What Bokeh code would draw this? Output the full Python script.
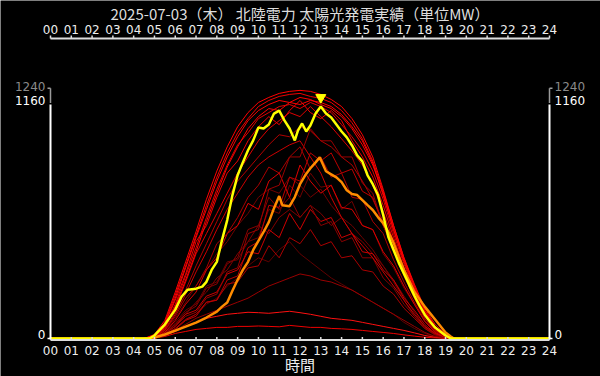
from bokeh.plotting import figure
from bokeh.models import Range1d
from bokeh.core.properties import value
from bokeh.embed import file_html
from bokeh.resources import INLINE

TITLE = "2025-07-03（木） 北陸電力 太陽光発電実績（単位MW）"
X_LABEL = "時間"
HOUR_TICKS = list(range(25))
HOUR_LABELS = ["00", "01", "02", "03", "04", "05", "06", "07", "08", "09", "10", "11", "12",
               "13", "14", "15", "16", "17", "18", "19", "20", "21", "22", "23", "24"]
Y_TICKS = [0, 1160]
Y_TICK_LABELS = ["0", "1160"]
Y_TOP = 1240
Y_TOP_LABEL = "1240"

# half-hour grid used by the past days (red)
RED_HOURS = [0, 4.5, 5.0, 5.5, 6.0, 6.5, 7.0, 7.5, 8.0, 8.5, 9.0, 9.5, 10.0, 10.5, 11.0, 11.5,
             12.0, 12.5, 13.0, 13.5, 14.0, 14.5, 15.0, 15.5, 16.0, 16.5, 17.0, 17.5, 18.0,
             18.5, 19.0, 19.5, 24]

day_a = [0, 0, 20, 90, 230, 380, 530, 690, 830, 950, 1050, 1120, 1170, 1195, 1215, 1225, 1230, 1225, 1210, 1185, 1150, 1090, 1010, 900, 740, 560, 400, 270, 150, 70, 20, 0, 0]
day_b = [0, 0, 15, 75, 200, 350, 500, 640, 780, 900, 1000, 1080, 1130, 1160, 1180, 1170, 1195, 1185, 1160, 1140, 1100, 1040, 960, 860, 720, 540, 390, 260, 140, 60, 15, 0, 0]
day_c = [0, 0, 10, 60, 170, 310, 450, 600, 740, 860, 960, 1020, 1090, 1120, 1150, 1160, 1140, 1170, 1150, 1120, 1060, 1000, 930, 830, 690, 520, 370, 240, 130, 55, 12, 0, 0]
day_d = [0, 0, 12, 70, 190, 320, 480, 560, 700, 820, 880, 980, 1050, 1100, 1060, 1130, 1180, 1120, 1090, 1130, 1080, 980, 900, 800, 660, 500, 350, 230, 120, 50, 10, 0, 0]
day_e = [0, 0, 8, 50, 150, 280, 420, 520, 620, 720, 820, 900, 980, 1040, 1080, 1120, 1100, 1150, 1100, 1050, 990, 930, 860, 760, 630, 480, 340, 220, 115, 45, 10, 0, 0]
day_f = [0, 0, 8, 45, 130, 240, 360, 470, 580, 690, 780, 840, 900, 960, 1010, 1000, 1050, 1030, 980, 950, 900, 860, 780, 690, 580, 450, 320, 200, 100, 40, 8, 0, 0]
day_g = [0, 0, 6, 40, 110, 200, 260, 350, 470, 520, 600, 700, 760, 850, 820, 900, 950, 840, 900, 800, 820, 700, 690, 580, 520, 390, 280, 180, 90, 35, 8, 0, 0]
day_h = [0, 0, 5, 30, 90, 170, 230, 340, 400, 520, 560, 670, 640, 780, 820, 700, 860, 780, 720, 760, 650, 640, 560, 540, 430, 360, 260, 170, 85, 30, 5, 0, 0]
day_i = [0, 0, 5, 30, 80, 140, 170, 260, 280, 380, 390, 480, 500, 640, 620, 760, 700, 820, 750, 760, 640, 680, 560, 540, 420, 350, 250, 170, 85, 30, 5, 0, 0]
day_j = [0, 0, 4, 25, 60, 110, 130, 200, 220, 330, 350, 520, 540, 740, 760, 900, 900, 1040, 980, 980, 900, 900, 770, 720, 560, 440, 310, 200, 100, 40, 8, 0, 0]
day_k = [0, 0, 5, 25, 60, 120, 140, 210, 230, 320, 340, 430, 420, 540, 500, 620, 540, 640, 580, 600, 500, 520, 430, 420, 340, 290, 200, 140, 70, 25, 5, 0, 0]
day_l = [0, 0, 4, 20, 50, 95, 120, 180, 190, 270, 280, 350, 360, 460, 400, 500, 470, 540, 460, 480, 400, 410, 340, 330, 260, 220, 150, 100, 50, 20, 4, 0, 0]
day_m = [0, 0, 3, 15, 40, 70, 100, 120, 140, 160, 180, 200, 230, 260, 280, 300, 320, 310, 290, 280, 260, 240, 210, 180, 150, 120, 90, 60, 30, 10, 2, 0, 0]
day_n = [0, 0, 3, 15, 35, 60, 80, 100, 110, 120, 125, 130, 128, 125, 130, 135, 128, 120, 110, 100, 95, 90, 80, 70, 60, 50, 40, 28, 15, 6, 2, 0, 0]
day_o = [0, 0, 2, 10, 25, 35, 45, 50, 55, 55, 60, 60, 62, 60, 58, 65, 60, 55, 55, 50, 48, 45, 40, 35, 30, 25, 18, 12, 6, 3, 1, 0, 0]
day_p = [0, 0, 6, 40, 120, 220, 330, 430, 540, 640, 720, 800, 860, 900, 930, 960, 980, 900, 820, 700, 600, 520, 460, 400, 330, 260, 190, 120, 60, 25, 5, 0, 0]
day_q = [0, 0, 3, 18, 45, 90, 110, 180, 190, 290, 310, 450, 480, 660, 650, 800, 780, 920, 880, 920, 820, 840, 730, 700, 560, 450, 320, 210, 100, 40, 8, 0, 0]
day_r = [0, 0, 5, 30, 70, 130, 160, 250, 270, 370, 400, 540, 560, 700, 640, 700, 600, 660, 560, 580, 480, 500, 400, 400, 300, 250, 170, 110, 55, 20, 4, 0, 0]
day_s = [0, 0, 15, 80, 215, 360, 510, 660, 800, 920, 1020, 1090, 1150, 1180, 1200, 1210, 1215, 1200, 1190, 1170, 1130, 1070, 990, 880, 730, 560, 400, 260, 140, 60, 15, 0, 0]
day_t = [0, 0, 10, 55, 160, 290, 430, 580, 720, 850, 950, 1040, 1100, 1140, 1130, 1170, 1160, 1180, 1170, 1150, 1110, 1050, 980, 870, 710, 540, 380, 250, 130, 55, 12, 0, 0]
day_u = [0, 0, 3, 20, 50, 90, 120, 170, 200, 260, 300, 360, 400, 380, 440, 480, 420, 380, 340, 300, 270, 240, 210, 180, 150, 120, 80, 50, 25, 8, 2, 0, 0]
day_v = [0, 0, 4, 25, 70, 120, 180, 230, 300, 340, 420, 480, 560, 520, 600, 640, 600, 660, 620, 560, 600, 520, 480, 420, 360, 290, 210, 130, 60, 20, 4, 0, 0]
day_w = [0, 0, 5, 35, 100, 180, 260, 340, 420, 480, 560, 620, 700, 740, 720, 800, 760, 700, 740, 660, 600, 560, 500, 440, 360, 280, 190, 110, 50, 15, 3, 0, 0]

RED_DAYS = [day_u, day_v, day_w, day_o, day_n, day_m, day_l, day_k, day_r, day_i, day_h, day_q,
            day_g, day_p, day_j, day_f, day_e, day_d, day_t, day_c, day_b, day_s, day_a]
RED_COLORS = ["#600000", "#800000", "#700000", "#ee0000", "#ff1010", "#990000", "#aa0000",
              "#cc0000", "#880000", "#700000", "#dd0000", "#bb0000", "#aa0000", "#cc0000",
              "#990000", "#b00000", "#dd0000", "#ee0000", "#ff0000", "#e00000", "#ff0000",
              "#f00000", "#ff0000"]

ORANGE_HOURS = [0, 4.9, 5.0, 5.5, 6.0, 6.5, 7.0, 7.5, 8.0, 8.25, 8.5, 8.75, 9.0, 9.25, 9.5, 9.75,
                10.0, 10.25, 10.5, 10.75, 11.0, 11.15, 11.5, 11.75, 12.0, 12.25, 12.5, 12.75,
                12.95, 13.1, 13.25, 13.5, 13.75, 14.0, 14.25, 14.5, 14.75, 15.0, 15.25, 15.5,
                15.75, 16.0, 16.25, 16.5, 16.75, 17.0, 17.5, 18.0, 18.5, 19.0, 19.25, 19.4, 24]
ORANGE_MW = [0, 0, 5, 20, 39, 59, 79, 104, 133, 158, 178, 237, 291, 340, 380, 439,
             484, 528, 577, 646, 706, 661, 656, 701, 765, 809, 844, 873,
             898, 864, 829, 814, 799, 775, 735, 716, 711, 686, 661, 637,
             602, 572, 528, 474, 405, 341, 232, 158, 94, 30, 10, 0, 0]

YELLOW_HOURS = [0, 4.75, 5.0, 5.5, 6.0, 6.3, 6.6, 7.0, 7.3, 7.5, 7.75, 8.0, 8.25, 8.5, 8.75, 9.0,
                9.25, 9.5, 9.75, 10.0, 10.25, 10.5, 10.75, 11.0, 11.25, 11.5, 11.75, 11.9, 12.1,
                12.3, 12.5, 12.75, 13.0, 13.25, 13.5, 13.75, 14.0, 14.25, 14.5, 14.75, 15.0,
                15.25, 15.5, 15.75, 16.0, 16.25, 16.5, 16.75, 17.0, 17.25, 17.5, 17.75, 18.0,
                18.25, 18.5, 18.75, 19.0, 19.25, 24]
YELLOW_MW = [0, 0, 15, 69, 143, 207, 242, 247, 257, 281, 340, 380, 489, 587, 711, 809,
             873, 933, 982, 1046, 1041, 1061, 1115, 1130, 1081, 1041, 982, 1031, 1066,
             1026, 1056, 1115, 1150, 1115, 1096, 1061, 1026, 997, 957, 908, 878,
             809, 765, 711, 612, 503, 439, 375, 321, 266, 212, 163, 118,
             84, 54, 35, 15, 0, 0]

# ---- layout (pixels) ----
W, H = 600, 376
PX_LEFT, PX_RIGHT = 50, 549          # hour 0 / hour 24
PX_ZERO, PX_1160 = 338, 104          # value 0 / value 1160
PX_TITLE, PX_TOP_LABELS, PX_TOP_AXIS = 13, 29, 38
PX_BOTTOM_AXIS, PX_BOTTOM_LABELS, PX_XLABEL = 339.5, 350, 364
PX_PER_H = (PX_RIGHT - PX_LEFT) / 24
PX_PER_MW = (PX_ZERO - PX_1160) / Y_TICKS[-1]


def yv(px):
    return (PX_ZERO - px) / PX_PER_MW


X_START = -PX_LEFT / PX_PER_H
X_END = 24 + (W - PX_RIGHT) / PX_PER_H
FG = "#dddddd"
TXT = "#eeeeee"

p = figure(width=W, height=H, x_range=Range1d(X_START, X_END), y_range=Range1d(yv(H), yv(0)),
           output_backend="svg", toolbar_location=None, x_axis_location=None,
           y_axis_location=None, background_fill_color="black", border_fill_color="black",
           min_border_left=0, min_border_right=0, min_border_top=0, min_border_bottom=0)
p.outline_line_color = None
p.border_line_color = None
p.xgrid.visible = False
p.ygrid.visible = False

# ---- data lines ----
for vals, col in zip(RED_DAYS, RED_COLORS):
    p.line(RED_HOURS, vals, line_color=col, line_width=1)

p.line(ORANGE_HOURS, ORANGE_MW, line_color="#ff8c00", line_width=2.5)
p.line(YELLOW_HOURS, YELLOW_MW, line_color="#ffff00", line_width=2.5)

peak = max(YELLOW_MW)
peak_h = YELLOW_HOURS[YELLOW_MW.index(peak)]
p.scatter([peak_h], [peak + 45], marker="inverted_triangle", size=10, color="#ffff00",
          line_color="#ffff00")

# ---- hour axes (top and bottom) ----
n = len(HOUR_TICKS)
tick_mw = 3 / PX_PER_MW
for px_axis, px_lab in [(PX_TOP_AXIS, PX_TOP_LABELS), (PX_BOTTOM_AXIS, PX_BOTTOM_LABELS)]:
    ya = yv(px_axis)
    p.segment(x0=[HOUR_TICKS[0]], y0=[ya], x1=[HOUR_TICKS[-1]], y1=[ya],
              line_color=FG, line_width=2)
    p.segment(x0=HOUR_TICKS, y0=[ya] * n, x1=HOUR_TICKS, y1=[ya + tick_mw] * n,
              line_color=FG, line_width=1.5)
    p.text(x=HOUR_TICKS, y=[yv(px_lab)] * n, text=HOUR_LABELS, text_align="center",
           text_baseline="middle", text_color=TXT, text_font=value("DejaVu Sans"),
           text_font_size="12px")

p.text(x=[12], y=[yv(PX_TITLE)], text=[TITLE], text_align="center", text_baseline="middle",
       text_color=FG, text_font=value("Noto Sans CJK JP"), text_font_size="15px")
p.text(x=[12], y=[yv(PX_XLABEL)], text=[X_LABEL], text_align="center", text_baseline="middle",
       text_color=TXT, text_font=value("Noto Sans CJK JP"), text_font_size="15px")

# ---- value axes at hour 0 and hour 24 (white up to 1160, grey bracket to 1240) ----
TICK = 3 / PX_PER_H
for xe, side in [(HOUR_TICKS[0], -1), (HOUR_TICKS[-1], 1)]:
    p.segment(x0=[xe], y0=[Y_TICKS[0]], x1=[xe], y1=[Y_TICKS[-1]],
              line_color="white", line_width=2)
    p.segment(x0=[xe, xe], y0=[Y_TICKS[-1] + 8, Y_TOP], x1=[xe, xe + side * TICK],
              y1=[Y_TOP, Y_TOP], line_color="#9a9a9a", line_width=1.5)
    p.segment(x0=[xe], y0=[Y_TICKS[0]], x1=[xe + side * TICK], y1=[Y_TICKS[0]],
              line_color="white", line_width=1.5)
    align = "right" if side < 0 else "left"
    p.text(x=[xe] * len(Y_TICKS), y=Y_TICKS, text=Y_TICK_LABELS, text_align=align,
           text_baseline="middle", x_offset=side * 5, y_offset=-4, text_color="white",
           text_font=value("DejaVu Sans"), text_font_size="12px")
    p.text(x=[xe], y=[Y_TOP], text=[Y_TOP_LABEL], text_align=align,
           text_baseline="middle", x_offset=side * 5, y_offset=-2, text_color="#8a8a8a",
           text_font=value("DejaVu Sans"), text_font_size="12px")

open("out.html", "w").write(file_html(p, INLINE))
